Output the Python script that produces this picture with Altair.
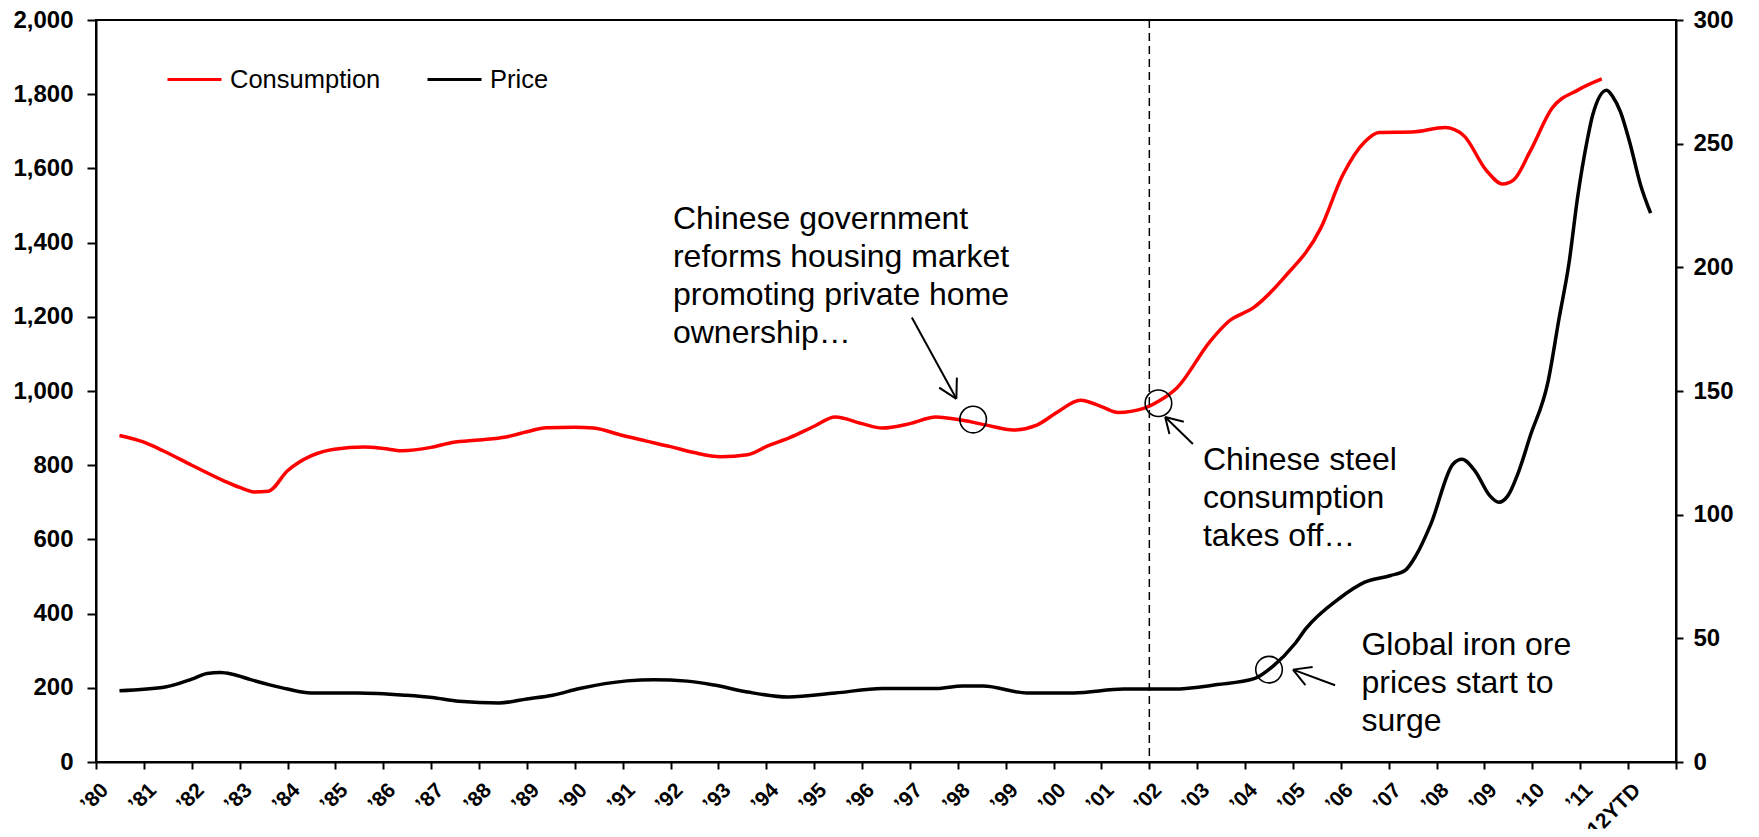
import json
import altair as alt
import pandas as pd

# ---------------- data ----------------
cons_year = [1980.49, 1981.0, 1981.4, 1982.0, 1982.67, 1983.0, 1983.3, 1983.6, 1984.0,
             1984.49, 1984.98, 1985.61, 1986.0, 1986.39, 1987.0, 1987.44, 1988.0, 1988.56,
             1989.0, 1989.4, 1990.0, 1990.39, 1991.0, 1991.5, 1992.0, 1992.49, 1993.05,
             1993.61, 1994.03, 1994.5, 1995.0, 1995.44, 1996.0, 1996.42, 1997.0, 1997.54,
             1998.1, 1998.6, 1999.16, 1999.65, 2000.1, 2000.56, 2001.0, 2001.35, 2001.88,
             2002.2, 2002.58, 2003.27, 2003.66, 2004.19, 2004.81, 2005.58, 2006.04, 2006.5,
             2006.8, 2007.49, 2008.18, 2008.57, 2009.03, 2009.38, 2009.61, 2009.95, 2010.41,
             2010.95, 2011.45]
cons_value = [880, 862, 839, 800, 758, 740, 728, 730, 785,
              825, 843, 849, 845, 839, 848, 861, 868, 876,
              890, 901, 902, 900, 880, 865, 850, 834, 823,
              828, 852, 875, 905, 930, 912, 900, 912, 930,
              921, 908, 895, 908, 945, 975, 958, 942, 953,
              973, 1009, 1134, 1188, 1226, 1305, 1439, 1582, 1672,
              1697, 1698, 1710, 1688, 1596, 1558, 1569, 1645, 1762,
              1811, 1841]

price_year = [1980.49, 1981.47, 1982.0, 1982.32, 1982.6, 1982.85, 1983.23, 1983.65, 1984.0,
              1984.49, 1985.47, 1986.46, 1987.02, 1987.58, 1988.42, 1989.0, 1989.54, 1990.1,
              1991.09, 1991.65, 1992.35, 1992.91, 1993.61, 1994.46, 1995.44, 1996.42, 1997.54,
              1998.1, 1998.53, 1999.44, 2000.42, 2001.47, 2002.5, 2003.42, 2004.19, 2004.58,
              2005.04, 2005.27, 2005.96, 2006.5, 2007.04, 2007.34, 2007.57, 2007.88, 2008.34,
              2008.53, 2008.8, 2009.11, 2009.3, 2009.49, 2009.72, 2009.95, 2010.33, 2010.56,
              2010.76, 2010.95, 2011.14, 2011.26, 2011.55, 2011.68, 2011.84, 2012.03, 2012.26,
              2012.47]
price_value = [28.8, 30.4, 33.5, 35.8, 36.2, 35.5, 33.3, 31.1, 29.5,
               27.9, 27.9, 27.0, 26.1, 24.6, 23.9, 25.5, 27.0, 29.7,
               32.8, 33.3, 32.7, 31.1, 28.3, 26.3, 27.9, 29.7, 29.7,
               30.7, 30.7, 27.9, 27.9, 29.5, 29.5, 31.3, 33.7, 38.7,
               47.8, 53.9, 66.0, 72.7, 75.4, 77.4, 83.5, 96.2, 120.4,
               122.4, 117.7, 107.7, 105.0, 107.7, 117.7, 131.5, 154.0, 179.6,
               201.0, 229.0, 250.8, 261.6, 271.6, 269.0, 262.9, 250.8, 233.3,
               221.9]

series_names = ["Consumption", "Price"]
series_colors = ["#FF0000", "#000000"]

tick_years = list(range(1980, 2014))
x_labels = ["\u201980", "\u201981", "\u201982", "\u201983", "\u201984", "\u201985", "\u201986",
            "\u201987", "\u201988", "\u201989", "\u201990", "\u201991", "\u201992", "\u201993",
            "\u201994", "\u201995", "\u201996", "\u201997", "\u201998", "\u201999", "\u201900",
            "\u201901", "\u201902", "\u201903", "\u201904", "\u201905", "\u201906", "\u201907",
            "\u201908", "\u201909", "\u201910", "\u201911", "\u201912YTD"]
left_ticks = list(range(0, 2001, 200))
right_ticks = list(range(0, 301, 50))

marker_year = [2002]

annot_text = ["Chinese government\nreforms housing market\npromoting private home\nownership\u2026",
              "Chinese steel\nconsumption\ntakes off\u2026",
              "Global iron ore\nprices start to\nsurge"]
annot_x = [1992.05, 2003.12, 2006.43]
annot_y = [1438, 786, 288]

circle_x = [1998.32, 2002.19, 2004.50]
circle_y = [923, 967, 249]

# arrow segments (shaft + two barbs each), in (year, left-axis units)
arrow_x1 = [1997.04, 1997.97, 1997.97, 2002.91, 2002.33, 2002.33, 2005.88, 2005.00, 2005.00]
arrow_y1 = [1198, 979, 979, 857, 930, 930, 207, 249, 249]
arrow_x2 = [1997.97, 1997.61, 1997.98, 2002.33, 2002.72, 2002.42, 2005.00, 2005.26, 2005.41]
arrow_y2 = [979, 1009, 1036, 930, 917, 884, 249, 207, 256]

# ---------------- chart ----------------
FONT = "Liberation Sans"

cons_df = pd.DataFrame({"year": cons_year, "value": cons_value, "series": series_names[0]})
price_df = pd.DataFrame({"year": price_year, "value": price_value, "series": series_names[1]})

x_scale = alt.Scale(domain=[1980, 2013], nice=False, zero=False)
yl_scale = alt.Scale(domain=[0, 2000], nice=False)
yr_scale = alt.Scale(domain=[0, 300], nice=False)

label_expr = json.dumps(x_labels, ensure_ascii=False) + "[round(datum.value) - 1980] || ''"

x_axis = alt.Axis(values=tick_years, labelExpr=label_expr, labelAngle=-45, labelAlign="right",
                  labelBaseline="top", labelFont=FONT, labelFontWeight="bold", labelFontSize=21,
                  labelColor="black", labelPadding=10, labelOffset=1, labelOverlap=False,
                  labelFlush=False, labelBound=False, tickColor="black", tickSize=7, tickWidth=2,
                  domainColor="black", domainWidth=2, grid=False, title=None)

left_axis = alt.Axis(values=left_ticks, format=",d", labelFont=FONT, labelFontWeight="bold",
                     labelFontSize=24, labelColor="black", labelPadding=14, tickColor="black",
                     tickSize=9, tickWidth=2, domainColor="black", domainWidth=2, grid=False,
                     title=None, labelFlush=False, labelBound=False)

right_axis = alt.Axis(orient="right", values=right_ticks, format="d", labelFont=FONT,
                      labelFontWeight="bold", labelFontSize=24, labelColor="black",
                      labelPadding=10, tickColor="black", tickSize=7, tickWidth=2,
                      domainColor="black", domainWidth=2, grid=False, title=None,
                      labelFlush=False, labelBound=False)

color = alt.Color(
    "series:N",
    scale=alt.Scale(domain=series_names, range=series_colors),
    legend=alt.Legend(title=None, orient="none", legendX=70, legendY=31, direction="horizontal",
                      symbolType="stroke", symbolSize=2916, symbolStrokeWidth=3,
                      labelFont=FONT, labelFontSize=25.5, labelColor="black", labelOffset=7,
                      labelLimit=400, columnPadding=40, padding=0),
)

X = lambda f: alt.X(f, scale=x_scale, axis=x_axis)
YL = lambda f: alt.Y(f, scale=yl_scale, axis=left_axis)

cons_line = alt.Chart(cons_df).mark_line(strokeWidth=3.5, interpolate="monotone").encode(
    x=X("year:Q"), y=YL("value:Q"), color=color,
)

rule = alt.Chart(pd.DataFrame({"year": marker_year})).mark_rule(
    color="black", strokeWidth=1.5, strokeDash=[8, 5]
).encode(x=X("year:Q"))

circles = alt.Chart(pd.DataFrame({"x": circle_x, "y": circle_y})).mark_point(
    shape="circle", size=707, filled=False, color="black", strokeWidth=1.6, opacity=1
).encode(x=X("x:Q"), y=YL("y:Q"))

arrows = alt.Chart(pd.DataFrame({"x1": arrow_x1, "y1": arrow_y1, "x2": arrow_x2, "y2": arrow_y2})).mark_rule(
    color="black", strokeWidth=2
).encode(x=X("x1:Q"), y=YL("y1:Q"), x2="x2:Q", y2="y2:Q")

texts = alt.Chart(pd.DataFrame({"x": annot_x, "y": annot_y, "t": annot_text})).mark_text(
    align="left", baseline="alphabetic", font=FONT, fontSize=32, lineBreak="\n",
    lineHeight=38, color="black"
).encode(x=X("x:Q"), y=YL("y:Q"), text="t:N")

price_line = alt.Chart(price_df).mark_line(strokeWidth=3.5, interpolate="monotone").encode(
    x=X("year:Q"),
    y=alt.Y("value:Q", scale=yr_scale, axis=right_axis),
    color=color,
)

left = alt.layer(cons_line, rule, circles, arrows, texts)

chart = alt.layer(left, price_line).resolve_scale(y="independent").properties(
    width=1580,
    height=742,
    autosize=alt.AutoSizeParams(type="none"),
    padding={"left": 88, "top": 12, "right": 75, "bottom": 67},
    background="white",
).configure_view(stroke="black", strokeWidth=2)

chart.save("out.html", embed_options={"renderer": "svg", "actions": False})
